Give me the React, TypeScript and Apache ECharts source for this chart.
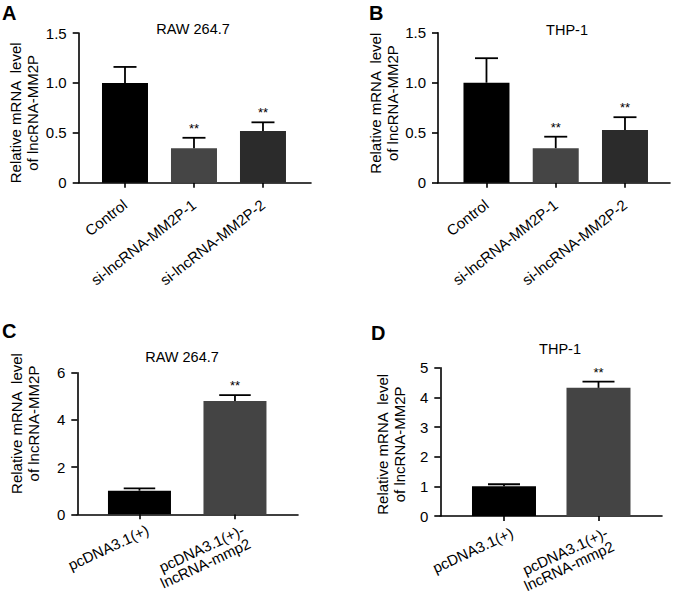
import React, { useEffect, useRef } from "react";
import * as echarts from "echarts";

const FONT = "Arial, 'Liberation Sans', Helvetica, sans-serif";

// Panel A / B categories
const categoriesAB = ["Control", "si-lncRNA-MM2P-1", "si-lncRNA-MM2P-2"];
// Panel C / D categories
const categoriesCD = ["pcDNA3.1(+)", "pcDNA3.1(+)-\nlncRNA-mmp2"];

// A: RAW 264.7 knockdown
const meanA = [1.0, 0.345, 0.518];
const sdA = [0.16, 0.105, 0.087];
const starsA = ["", "**", "**"];
// B: THP-1 knockdown
const meanB = [1.0, 0.345, 0.528];
const sdB = [0.245, 0.115, 0.127];
const starsB = ["", "**", "**"];
// C: RAW 264.7 overexpression
const meanC = [1.0, 4.8];
const sdC = [0.1, 0.25];
const starsC = ["", "**"];
// D: THP-1 overexpression
const meanD = [1.0, 4.32];
const sdD = [0.07, 0.21];
const starsD = ["", "**"];

const colorsAB = ["#000000", "#454545", "#2b2b2b"];
const colorsCD = ["#000000", "#444444"];

const yMaxAB = 1.5;
const yStepAB = 0.5;
const yMaxC = 6;
const yStepC = 2;
const yMaxD = 5;
const yStepD = 1;

const titles = ["RAW 264.7", "THP-1", "RAW 264.7", "THP-1"];
const letters = ["A", "B", "C", "D"];
const yName = "Relative mRNA  level\nof lncRNA-MM2P";

export default function App() {
  const ref = useRef<HTMLDivElement>(null);

  useEffect(() => {
    if (!ref.current) return;
    const chart = echarts.init(ref.current, null, { renderer: "svg" });

    const panels = [
      {
        cats: categoriesAB, mean: meanA, sd: sdA, stars: starsA, colors: colorsAB,
        yMax: yMaxAB, yStep: yStepAB, dec: 1,
        grid: { left: 78.7, top: 33, width: 232.3, height: 149.7 },
        xMin: -0.671, xMax: 2.696, barWidth: 46, rotate: 38,
        margin: 20, vAlign: "middle", padTop: 0, nameGap: 38, namePad: [0, 10, 0, 0],
        title: { x: 193, y: 21 }, letter: { x: 2, y: 3 },
      },
      {
        cats: categoriesAB, mean: meanB, sd: sdB, stars: starsB, colors: colorsAB,
        yMax: yMaxAB, yStep: yStepAB, dec: 1,
        grid: { left: 438, top: 32.7, width: 232, height: 150 },
        xMin: -0.7, xMax: 2.65, barWidth: 46, rotate: 38,
        margin: 20, vAlign: "middle", padTop: 0, nameGap: 32, namePad: [0, 0, 0, 9],
        title: { x: 567, y: 22 }, letter: { x: 369, y: 3 },
      },
      {
        cats: categoriesCD, mean: meanC, sd: sdC, stars: starsC, colors: colorsCD,
        yMax: yMaxC, yStep: yStepC, dec: 0,
        grid: { left: 77.3, top: 372.7, width: 220.7, height: 141.6 },
        xMin: -0.651, xMax: 1.66, barWidth: 63, rotate: 25,
        margin: -3, vAlign: "top", padTop: 12, nameGap: 35, namePad: [0, 0, 0, 40],
        title: { x: 182, y: 349 }, letter: { x: 2, y: 321 },
      },
      {
        cats: categoriesCD, mean: meanD, sd: sdD, stars: starsD, colors: colorsCD,
        yMax: yMaxD, yStep: yStepD, dec: 0,
        grid: { left: 440.3, top: 367.7, width: 221.7, height: 148.3 },
        xMin: -0.674, xMax: 1.672, barWidth: 64, rotate: 25,
        margin: -2, vAlign: "top", padTop: 12, nameGap: 32, namePad: [0, 5, 0, 0],
        title: { x: 560, y: 341 }, letter: { x: 371, y: 323 },
      },
    ];

    const grid: any[] = [];
    const xAxis: any[] = [];
    const yAxis: any[] = [];
    const series: any[] = [];
    const title: any[] = [];

    panels.forEach((p, i) => {
      grid.push({ ...p.grid, containLabel: false, outerBoundsMode: "none" });
      const idxs = p.cats.map((_, k) => k);
      xAxis.push({
        gridIndex: i,
        type: "value",
        min: p.xMin,
        max: p.xMax,
        splitLine: { show: false },
        axisLine: { show: true, onZero: false, lineStyle: { color: "#000", width: 1.6 } },
        axisTick: { show: true, customValues: idxs, length: 5, lineStyle: { color: "#000", width: 1.6 } },
        axisLabel: {
          customValues: idxs,
          formatter: (v: number) => p.cats[Math.round(v)] ?? "",
          rotate: p.rotate,
          margin: p.margin,
          verticalAlign: p.vAlign,
          padding: [p.padTop, 0, 0, 0],
          fontSize: 15,
          lineHeight: 15,
          fontFamily: FONT,
          color: "#000",
        },
      });
      yAxis.push({
        gridIndex: i,
        type: "value",
        min: 0,
        max: p.yMax,
        interval: p.yStep,
        splitLine: { show: false },
        axisLine: { show: true, onZero: false, lineStyle: { color: "#000", width: 1.6 } },
        axisTick: { show: true, length: 6, lineStyle: { color: "#000", width: 1.6 } },
        axisLabel: {
          formatter: (v: number) => (v === 0 ? "0" : v.toFixed(p.dec)),
          fontSize: 15,
          fontFamily: FONT,
          color: "#000",
          margin: 12,
        },
        name: yName,
        nameLocation: "middle",
        nameGap: p.nameGap,
        nameTextStyle: {
          fontSize: 15,
          fontFamily: FONT,
          color: "#000",
          lineHeight: 17,
          padding: p.namePad,
        },
      });
      series.push({
        type: "bar",
        xAxisIndex: i,
        yAxisIndex: i,
        barWidth: p.barWidth,
        data: p.mean.map((m, k) => ({ value: [k, m], itemStyle: { color: p.colors[k] } })),
        z: 2,
      });
      series.push({
        type: "custom",
        xAxisIndex: i,
        yAxisIndex: i,
        z: 5,
        data: p.mean.map((m, k) => [k, m, p.sd[k]]),
        renderItem: (params: any, api: any) => {
          const k = api.value(0);
          const m = api.value(1);
          const s = api.value(2);
          const base = api.coord([k, m]);
          const top = api.coord([k, m + s]);
          const half = p.barWidth / 4;
          const star = p.stars[params.dataIndex];
          const children: any[] = [
            {
              type: "line",
              shape: { x1: base[0], y1: base[1], x2: top[0], y2: top[1] },
              style: { stroke: "#000", lineWidth: 1.8 },
            },
            {
              type: "line",
              shape: { x1: top[0] - half, y1: top[1], x2: top[0] + half, y2: top[1] },
              style: { stroke: "#000", lineWidth: 1.8 },
            },
          ];
          if (star) {
            children.push({
              type: "text",
              x: top[0],
              y: top[1] - 3,
              style: {
                text: star,
                fontSize: 13,
                fontFamily: FONT,
                fill: "#000",
                align: "center",
                verticalAlign: "bottom",
              },
            });
          }
          return { type: "group", children };
        },
      });
      title.push({
        text: titles[i],
        left: p.title.x,
        top: p.title.y,
        textAlign: "center",
        padding: 0,
        textStyle: { fontSize: 14.5, fontWeight: "normal", fontFamily: FONT, color: "#000" },
      });
      title.push({
        text: letters[i],
        left: p.letter.x,
        top: p.letter.y,
        padding: 0,
        textStyle: { fontSize: 20, fontWeight: "bold", fontFamily: FONT, color: "#000" },
      });
    });

    chart.setOption({
      animation: false,
      backgroundColor: "#fff",
      title,
      grid,
      xAxis,
      yAxis,
      series,
    });

    return () => chart.dispose();
  }, []);

  return (
    <div
      ref={ref}
      style={{ position: "absolute", left: 0, top: 0, width: 677, height: 594, background: "#fff" }}
    />
  );
}
